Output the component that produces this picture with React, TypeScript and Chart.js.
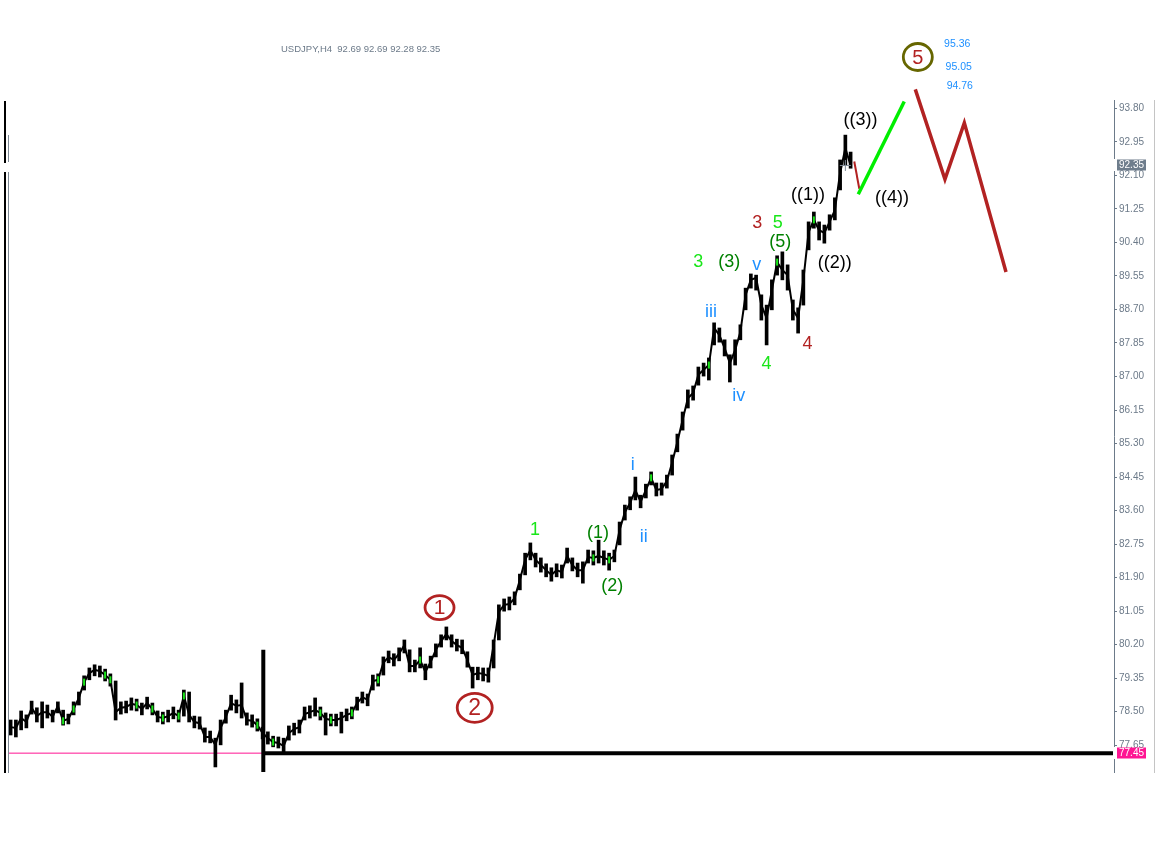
import React, { useEffect, useRef } from 'react';
import { Chart, registerables } from 'chart.js';

Chart.register(...registerables);

// ---- price data (USDJPY H4), one value per bar ----
const closes = [
  78.11, 78.09, 78.34, 78.24, 78.60, 78.39, 78.49, 78.49, 78.37, 78.65,
  78.27, 78.32, 78.57, 78.85, 79.25, 79.48, 79.56, 79.53, 79.43, 79.31,
  78.49, 78.60, 78.62, 78.70, 78.67, 78.57, 78.72, 78.57, 78.37, 78.34,
  78.39, 78.47, 78.39, 78.90, 78.42, 78.24, 78.21, 77.86, 77.86, 77.66,
  78.09, 78.37, 78.72, 78.65, 78.67, 78.29, 78.27, 78.16, 77.96, 77.83,
  77.73, 77.71, 77.63, 77.96, 78.06, 78.11, 78.44, 78.49, 78.54, 78.47,
  78.32, 78.29, 78.29, 78.34, 78.42, 78.47, 78.72, 78.87, 78.80, 79.28,
  79.31, 79.74, 79.89, 79.81, 79.97, 80.19, 79.66, 79.66, 79.81, 79.51,
  79.76, 80.07, 80.29, 80.47, 80.29, 80.19, 80.12, 79.81, 79.43, 79.48,
  79.46, 79.41, 80.19, 81.03, 81.21, 81.23, 81.38, 81.84, 82.35, 82.60,
  82.35, 82.22, 82.09, 81.97, 82.09, 82.04, 82.45, 82.22, 82.09, 82.09,
  82.42, 82.40, 82.45, 82.40, 82.35, 82.45, 83.11, 83.56, 83.79, 84.12,
  83.82, 84.12, 84.43, 84.12, 84.15, 84.35, 84.81, 85.34, 85.90, 86.45,
  86.58, 87.04, 87.17, 87.29, 88.23, 88.05, 87.72, 87.34, 87.67, 88.13,
  89.07, 89.45, 89.50, 88.81, 88.48, 89.19, 89.90, 89.70, 89.57, 88.69,
  88.48, 89.45, 90.66, 90.97, 90.71, 90.64, 90.92, 91.22, 92.16, 92.79,
  92.35,
];
const highs = [
  78.29, 78.29, 78.52, 78.42, 78.77, 78.60, 78.75, 78.67, 78.54, 78.75,
  78.54, 78.44, 78.75, 79.00, 79.41, 79.61, 79.69, 79.66, 79.58, 79.46,
  79.28, 78.75, 78.77, 78.85, 78.82, 78.72, 78.87, 78.72, 78.52, 78.49,
  78.54, 78.62, 78.54, 79.05, 79.00, 78.39, 78.37, 78.09, 78.01, 77.83,
  78.29, 78.54, 78.92, 78.80, 79.23, 78.47, 78.42, 78.32, 78.11, 77.99,
  77.88, 77.86, 77.83, 78.14, 78.21, 78.29, 78.62, 78.65, 78.85, 78.62,
  78.47, 78.44, 78.44, 78.49, 78.57, 78.62, 78.87, 79.00, 78.95, 79.43,
  79.46, 79.89, 80.04, 79.97, 80.12, 80.32, 80.07, 79.81, 80.12, 79.71,
  79.91, 80.22, 80.45, 80.65, 80.45, 80.34, 80.32, 80.02, 79.63, 79.63,
  79.61, 79.61, 80.32, 81.21, 81.36, 81.41, 81.54, 81.99, 82.52, 82.78,
  82.52, 82.40, 82.25, 82.15, 82.25, 82.22, 82.65, 82.40, 82.27, 82.30,
  82.60, 82.58, 82.85, 82.58, 82.52, 82.60, 83.31, 83.74, 83.95, 84.45,
  83.99, 84.27, 84.58, 84.30, 84.30, 84.50, 85.01, 85.54, 86.10, 86.66,
  86.76, 87.24, 87.34, 87.47, 88.36, 88.23, 87.93, 87.55, 87.93, 88.31,
  89.24, 89.60, 89.57, 89.07, 88.81, 89.45, 90.06, 90.16, 89.83, 88.94,
  88.74, 89.70, 90.92, 91.17, 90.92, 90.84, 91.10, 91.53, 92.49, 93.12,
  92.69,
];
const lows = [
  77.91, 77.86, 78.04, 78.09, 78.44, 78.24, 78.09, 78.34, 78.24, 78.47,
  78.16, 78.19, 78.42, 78.67, 79.05, 79.31, 79.41, 79.38, 79.28, 79.15,
  78.29, 78.44, 78.47, 78.54, 78.52, 78.42, 78.57, 78.42, 78.24, 78.19,
  78.24, 78.32, 78.24, 78.39, 78.24, 78.09, 78.06, 77.73, 77.71, 77.10,
  77.66, 78.21, 78.54, 78.47, 78.34, 78.16, 78.11, 78.01, 77.81, 77.68,
  77.61, 77.58, 77.45, 77.78, 77.91, 77.96, 78.29, 78.34, 78.39, 78.29,
  77.91, 78.14, 78.14, 77.96, 78.27, 78.32, 78.54, 78.72, 78.65, 79.05,
  79.15, 79.43, 79.74, 79.66, 79.79, 79.99, 79.51, 79.51, 79.61, 79.31,
  79.61, 79.89, 80.14, 80.32, 80.14, 80.04, 79.97, 79.63, 79.10, 79.31,
  79.28, 79.25, 79.61, 80.32, 81.05, 81.08, 81.21, 81.59, 81.97, 82.35,
  82.17, 82.04, 81.92, 81.81, 81.92, 81.89, 82.27, 82.07, 81.92, 81.76,
  82.27, 82.22, 82.27, 82.22, 82.09, 82.30, 82.73, 83.36, 83.62, 83.87,
  83.67, 83.92, 84.25, 83.97, 83.99, 84.17, 84.50, 85.09, 85.64, 86.20,
  86.40, 86.78, 87.01, 86.91, 87.80, 87.87, 87.52, 86.86, 87.29, 87.93,
  88.69, 89.24, 89.19, 88.43, 87.80, 88.69, 89.57, 89.45, 89.19, 88.43,
  88.10, 88.81, 90.21, 90.76, 90.46, 90.38, 90.71, 90.97, 91.73, 92.36,
  92.28,
];
// bars that carry the small "bull" colour mark
const upBars = [10, 12, 14, 18, 19, 24, 27, 29, 32, 33, 47, 50, 59, 61, 65, 70, 78, 111, 114, 122, 133, 146, 153];

// ---- axis ----
const yTicks = [93.80, 92.95, 92.10, 91.25, 90.40, 89.55, 88.70, 87.85, 87.00, 86.15,
  85.30, 84.45, 83.60, 82.75, 81.90, 81.05, 80.20, 79.35, 78.50, 77.65];
const yMin = 76.972;
const yMax = 94.01;
const xMin = -0.5;
const xMax = 210.17;

// ---- objects on the chart ----
const symbolTitle = 'USDJPY,H4  92.69 92.69 92.28 92.35';
const lastPrice = 92.35;
const levelPrice = 77.45;
const levelStartBar = 48.13;
const levelLineTop = 80.07;
const greenProjX = [161.46, 170.22];
const greenProjY = [91.62, 93.97];
const redTickX = [160.70, 161.65];
const redTickY = [92.45, 91.76];
const redProjX = [172.32, 177.97, 181.66, 189.60];
const redProjY = [94.28, 92.00, 93.43, 89.65];
const crossBar = 159.0;

const waveText = ['((3))', '((4))', '((1))', '((2))', '3', '5', '(5)', '3', '(3)', 'v', 'iii', '4', '4', 'iv', 'i', 'ii', '1', '(1)', '(2)'];
const waveBar = [161.9, 167.9, 151.9, 157.0, 142.2, 146.1, 146.6, 131.0, 136.9, 142.1, 133.4, 144.0, 151.8, 138.7, 118.5, 120.6, 99.9, 111.9, 114.6];
const wavePrice = [93.50, 91.53, 91.60, 89.88, 90.89, 90.90, 90.42, 89.89, 89.91, 89.82, 88.64, 87.32, 87.82, 86.51, 84.76, 82.92, 83.11, 83.04, 81.69];
const waveKind = ['k', 'k', 'k', 'k', 'r', 'l', 'g', 'l', 'g', 'b', 'b', 'l', 'r', 'b', 'b', 'b', 'l', 'g', 'g'];

const circleText = ['1', '2', '5'];
const circleBar = [81.7, 88.4, 172.8];
const circlePrice = [81.14, 78.60, 95.10];

const targetText = ['95.36', '95.05', '94.76'];
const targetBar = [180.3, 180.6, 180.8];
const targetPrice = [95.43, 94.85, 94.37];

const COLORS: Record<string, string> = {
  k: '#000000',
  r: '#b22222',
  l: '#19e619',
  g: '#008000',
  b: '#1e90ff',
};
const AXIS = '#6c7a89';
const FONT = '"Liberation Sans", Arial, sans-serif';

const overlay = {
  id: 'mt4overlay',
  afterDraw(chart: any) {
    const { ctx, scales } = chart;
    const xs = scales.x;
    const ys = scales.y;
    ctx.save();

    // title
    ctx.fillStyle = AXIS;
    ctx.font = `9.5px ${FONT}`;
    ctx.textAlign = 'left';
    ctx.textBaseline = 'middle';
    ctx.fillText(symbolTitle, 281, 49);

    // window frame lines
    ctx.fillStyle = '#000';
    ctx.fillRect(4, 101, 2, 62);
    ctx.fillRect(4, 172, 2, 601);
    ctx.fillStyle = '#7d8894';
    ctx.fillRect(8, 135, 1, 27);
    ctx.fillRect(8, 172, 1, 601);
    ctx.fillStyle = '#c4c4c4';
    ctx.fillRect(1154, 100, 1, 673);

    // wave labels
    ctx.textAlign = 'center';
    ctx.textBaseline = 'middle';
    ctx.font = `18px ${FONT}`;
    waveText.forEach((t, i) => {
      ctx.fillStyle = COLORS[waveKind[i]];
      ctx.fillText(t, xs.getPixelForValue(waveBar[i]), ys.getPixelForValue(wavePrice[i]));
    });

    // circled labels
    const ring = [
      { rx: 14.5, ry: 12, stroke: '#b22222', size: 21 },
      { rx: 17.5, ry: 14.5, stroke: '#b22222', size: 23 },
      { rx: 14.5, ry: 13.5, stroke: '#666600', size: 20 },
    ];
    circleText.forEach((t, i) => {
      const cx = xs.getPixelForValue(circleBar[i]);
      const cy = ys.getPixelForValue(circlePrice[i]);
      const r = ring[i];
      ctx.beginPath();
      ctx.ellipse(cx, cy, r.rx, r.ry, 0, 0, Math.PI * 2);
      ctx.lineWidth = 2.8;
      ctx.strokeStyle = r.stroke;
      ctx.stroke();
      ctx.fillStyle = '#b22222';
      ctx.font = `${r.size}px ${FONT}`;
      ctx.fillText(t, cx, cy + 1);
    });

    // target prices
    ctx.font = `10.5px ${FONT}`;
    ctx.fillStyle = '#1e90ff';
    targetText.forEach((t, i) => {
      ctx.fillText(t, xs.getPixelForValue(targetBar[i]), ys.getPixelForValue(targetPrice[i]));
    });

    // price boxes on axis
    const boxX = 1117;
    const boxW = 29;
    const drawBox = (price: number, bg: string) => {
      const yc = Math.round(ys.getPixelForValue(price));
      ctx.fillStyle = '#ffffff';
      ctx.fillRect(1113, yc - 6, 4, 12);
      ctx.fillStyle = bg;
      ctx.fillRect(boxX, yc - 5.5, boxW, 11);
      ctx.fillStyle = '#ffffff';
      ctx.font = `10px ${FONT}`;
      ctx.textAlign = 'left';
      ctx.fillText(price.toFixed(2), boxX + 2, yc + 0.5);
    };
    drawBox(lastPrice, '#6e7d8c');
    drawBox(levelPrice, '#ff1493');

    ctx.restore();
  },
};

export default function App() {
  const ref = useRef<HTMLCanvasElement | null>(null);

  useEffect(() => {
    if (!ref.current) return;
    const chart = new Chart(ref.current, {
      type: 'line',
      data: {
        datasets: [
          {
            type: 'line',
            data: [{ x: xMin, y: levelPrice }, { x: levelStartBar, y: levelPrice }],
            borderColor: '#ff1493',
            borderWidth: 1,
            pointRadius: 0,
            order: 10,
          } as any,
          {
            type: 'bar',
            data: closes.map((_, i) => ({ x: i, y: [lows[i], highs[i]] })),
            backgroundColor: '#000000',
            barThickness: 3,
            grouped: false,
            order: 8,
          } as any,
          {
            type: 'line',
            data: closes.map((c, i) => ({ x: i, y: c })),
            borderColor: '#000',
            borderWidth: 2,
            pointRadius: 0,
            tension: 0,
            order: 7,
          } as any,
          {
            type: 'scatter',
            data: upBars.map((i) => ({ x: i, y: closes[i] })),
            pointStyle: 'line',
            rotation: 90,
            pointRadius: 3.5,
            borderColor: '#19e619',
            borderWidth: 2,
            order: 6,
          } as any,
          {
            type: 'line',
            data: [{ x: levelStartBar, y: levelPrice }, { x: xMax, y: levelPrice }],
            borderColor: '#000',
            borderWidth: 4,
            pointRadius: 0,
            order: 4,
          } as any,
          {
            type: 'line',
            data: [{ x: levelStartBar, y: levelLineTop }, { x: levelStartBar, y: yMin }],
            borderColor: '#000',
            borderWidth: 4,
            pointRadius: 0,
            order: 4,
          } as any,
          {
            type: 'line',
            data: greenProjX.map((x, i) => ({ x, y: greenProjY[i] })),
            borderColor: '#00ee00',
            borderWidth: 3.5,
            pointRadius: 0,
            clip: false,
            order: 2,
          } as any,
          {
            type: 'line',
            data: redTickX.map((x, i) => ({ x, y: redTickY[i] })),
            borderColor: '#b22222',
            borderWidth: 2,
            pointRadius: 0,
            clip: false,
            order: 2,
          } as any,
          {
            type: 'line',
            data: redProjX.map((x, i) => ({ x, y: redProjY[i] })),
            borderColor: '#b22222',
            borderWidth: 3.5,
            pointRadius: 0,
            clip: false,
            order: 2,
          } as any,
          {
            type: 'scatter',
            data: [{ x: crossBar, y: lastPrice }],
            pointStyle: 'cross',
            pointRadius: 5.5,
            borderColor: '#7d8894',
            borderWidth: 1,
            order: 1,
          } as any,
        ],
      },
      options: {
        responsive: false,
        maintainAspectRatio: false,
        animation: false,
        events: [],
        layout: { padding: { left: 8, top: 100, bottom: 76, right: 0 } },
        plugins: { legend: { display: false }, tooltip: { enabled: false } },
        scales: {
          x: {
            type: 'linear',
            min: xMin,
            max: xMax,
            offset: false,
            display: false,
          },
          y: {
            type: 'linear',
            position: 'right',
            min: yMin,
            max: yMax,
            afterBuildTicks: (s: any) => {
              s.ticks = yTicks.map((v) => ({ value: v }));
            },
            afterFit: (s: any) => {
              s.width = 46;
            },
            ticks: {
              autoSkip: false,
              color: AXIS,
              padding: 2,
              font: { family: FONT, size: 10 },
              callback: (v: any) => Number(v).toFixed(2),
            },
            grid: { drawOnChartArea: false, drawTicks: true, tickLength: 3, color: AXIS },
            border: { display: true, color: AXIS, width: 1 },
          },
        },
      } as any,
      plugins: [overlay],
    });
    return () => chart.destroy();
  }, []);

  return (
    <div style={{ position: 'absolute', left: 0, top: 0, width: 1160, height: 848, background: '#fff' }}>
      <canvas ref={ref} width={1160} height={848} style={{ display: 'block' }} />
    </div>
  );
}
